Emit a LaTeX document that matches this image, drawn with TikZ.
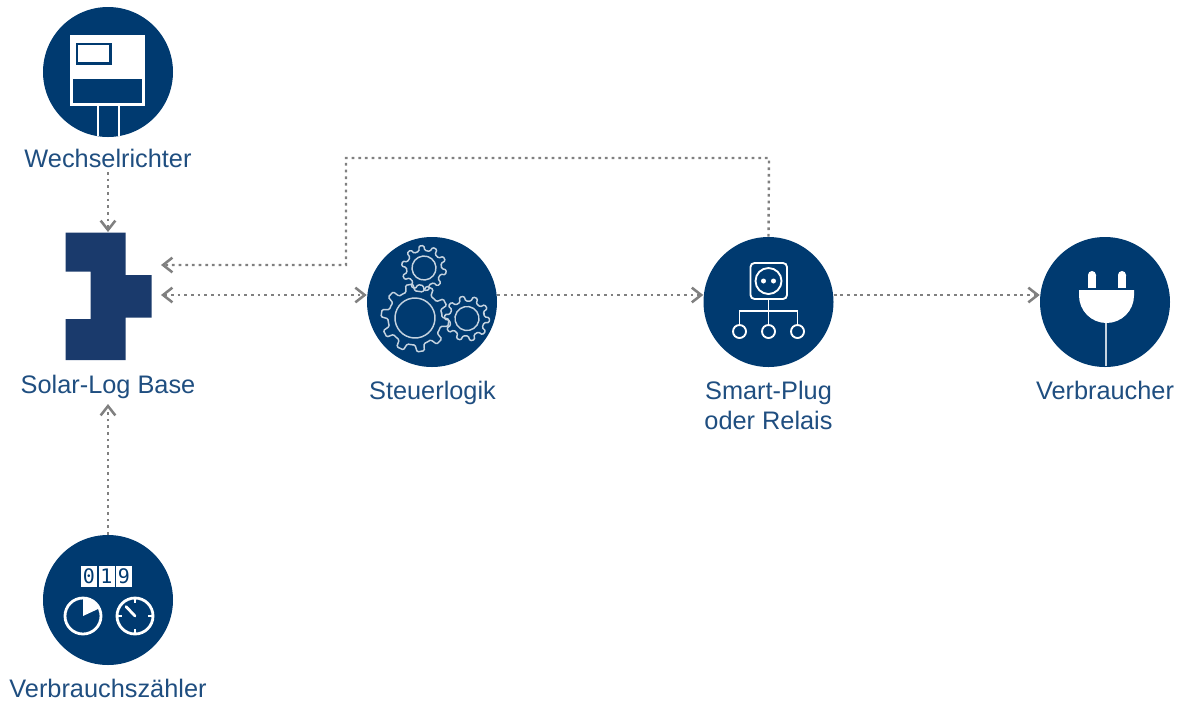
\documentclass[tikz,border=0pt]{standalone}
\usepackage{fontspec}
\setmainfont{Liberation Sans}
\newfontfamily\digitfont{DejaVu Sans Mono}
\usetikzlibrary{arrows.meta}
\definecolor{navy}{HTML}{003A70}
\definecolor{blockblue}{HTML}{1A3A6C}
\definecolor{labelblue}{HTML}{1F4E80}
\definecolor{flowgray}{HTML}{808080}
\definecolor{gearline}{HTML}{C5D3E0}
\tikzset{
  disc/.style={circle,fill=navy,draw=none,inner sep=0pt,minimum size=97.5pt},
  lbl/.style={text=labelblue,font=\fontsize{19}{22.5}\selectfont,anchor=base,inner sep=0pt,align=center},
  flow/.style={draw=flowgray,line width=1.8pt,dash pattern=on 2.1pt off 2.9pt,
    -{Straight Barb[length=7pt,width=11pt,line width=1.9pt]}},
  flowboth/.style={flow,{Straight Barb[length=7pt,width=11pt,line width=1.9pt]}-{Straight Barb[length=7pt,width=11pt,line width=1.9pt]}},
  icon/.style={draw=white,line width=1.4pt},
  gearpath/.style={draw=gearline,line width=1.1pt,rounded corners=0.9pt},
  digit/.style={text=navy,inner sep=0pt,font=\digitfont\fontsize{15}{16}\selectfont}
}
\newcommand{\gearicon}[7]{%
  \begin{scope}[shift={(#1,#2)},rotate=#7]
    \pgfmathsetmacro{\gstep}{360/#3}
    \draw[gearpath] (0:#5)
      \foreach \gi in {1,...,#3}{
        -- ({(\gi-1)*\gstep+0.18*\gstep}:#5)
        -- ({(\gi-1)*\gstep+0.28*\gstep}:#4)
        -- ({(\gi-1)*\gstep+0.62*\gstep}:#4)
        -- ({(\gi-1)*\gstep+0.72*\gstep}:#5)
        -- ({\gi*\gstep}:#5)
      } -- cycle;
    \draw[draw=gearline,line width=1.1pt] (0,0) circle (#6);
  \end{scope}}
\begin{document}
\begin{tikzpicture}[x=0.75pt,y=-0.75pt]
\useasboundingbox (0,0) rectangle (1186,701);

% --- discs
\node[disc] (wr) at (108,72) {};
\node[disc] (logic) at (432,302) {};
\node[disc] (smart) at (768.5,302) {};
\node[disc] (load) at (1105,302) {};
\node[disc] (meter) at (108,600) {};

% --- Solar-Log block
\node[inner sep=0pt,minimum width=65.25pt,minimum height=96pt] (base) at (108.5,296) {};
\fill[blockblue] (65.5,232.5) -- (125.5,232.5) -- (125.5,275) -- (151.5,275) -- (151.5,317.5)
  -- (125.5,317.5) -- (125.5,360) -- (65.5,360) -- (65.5,319) -- (90.5,319) -- (90.5,271.5) -- (65.5,271.5) -- cycle;

% --- labels
\node[lbl] (wrlabel) at (108,167.5) {Wechselrichter};
\node[lbl] (baselabel) at (108,393.5) {Solar-Log Base};
\node[lbl] (logiclabel) at (432.5,399.5) {Steuerlogik};
\node[lbl] (smartlabel) at (768.5,429.5) {Smart-Plug\\oder Relais};
\node[lbl] (loadlabel) at (1105,399.5) {Verbraucher};
\node[lbl] (meterlabel) at (108,697) {Verbrauchszähler};

% --- inverter icon
\fill[white] (69.5,35) rectangle (144.5,105.5);
\fill[navy] (72.5,79) rectangle (141.5,103);
\draw[navy,line width=1.6pt] (77,44) rectangle (110.5,63.5);
\draw[white,line width=1.5pt] (98,105) -- (98,136);
\draw[white,line width=1.5pt] (118.5,105) -- (118.5,136);

% --- gears
\gearicon{415}{318}{10}{34}{27}{20}{8}
\gearicon{424}{268}{10}{22.5}{17.5}{12}{5}
\gearicon{467}{318.5}{10}{22.5}{17.5}{12}{12}

% --- smart plug icon
\draw[icon,rounded corners=3pt] (750.5,263) rectangle (787,299);
\draw[icon] (768.5,281) circle (13);
\fill[white] (763.5,281) circle (2.5);
\fill[white] (773.5,281) circle (2.5);
\draw[icon] (768.5,299) -- (768.5,325);
\draw[icon] (739.5,325.5) -- (739.5,311) -- (797.5,311) -- (797.5,325.5);
\draw[icon] (739.5,331.5) circle (6.5);
\draw[icon] (768.5,331.5) circle (6.5);
\draw[icon] (797.5,331.5) circle (6.5);

% --- mains plug icon
\fill[white] (1079,290) -- (1134,290) -- (1134,295.5) arc[start angle=0,end angle=180,radius=27.5] -- cycle;
\fill[white,rounded corners=3pt] (1088,280) -- (1088,271) -- (1096,271) -- (1096,280) -- cycle;
\fill[white] (1088,276) rectangle (1096,288);
\fill[white,rounded corners=3pt] (1118,280) -- (1118,271) -- (1126,271) -- (1126,280) -- cycle;
\fill[white] (1118,276) rectangle (1126,288);
\draw[gearline,line width=1.5pt] (1106,323) -- (1106,366);

% --- meter icon
\fill[white] (81,566) rectangle (97,587);
\fill[white] (98.5,566) rectangle (114.5,587);
\fill[white] (116,566) rectangle (132,587);
\node[digit] (d0) at (89,576.5) {0};
\node[digit] (d1) at (106.5,576.5) {1};
\node[digit] (d9) at (124,576.5) {9};
\draw[white,line width=2.1pt] (83,616) circle (18);
\fill[white] (83,616) -- (83,598) arc[start angle=-90,end angle=-25,radius=18] -- cycle;
\draw[white,line width=2.1pt] (135,616) circle (18);
\draw[white,line width=2.1pt,line cap=round] (135,616) -- (126,606.5);
\draw[white,line width=1.5pt] (135,598) -- (135,603) (135,634) -- (135,629) (117,616) -- (122,616) (153,616) -- (148,616);

% --- connectors
\coordinate (inA) at (161,265);
\coordinate (inB) at (161,295);
\coordinate (turnA) at (346,158);
\coordinate (turnB) at (346,265);
\coordinate (turnC) at (769,158);
\coordinate (wrout) at (108,172);
\coordinate (basein) at (108,232);
\coordinate (basebottom) at (108,404);
\draw[flow] (wrout) -- (basein);
\draw[flow] (meter.north) -- (basebottom);
\draw[flowboth] (inB) -- (inB -| logic.west);
\draw[flow] (logic.east |- inB) -- (smart.west |- inB);
\draw[flow] (smart.east |- inB) -- (load.west |- inB);
\draw[flow] (smart.north) -- (turnC) -- (turnA) -- (turnB) -- (inA);
\end{tikzpicture}
\end{document}
